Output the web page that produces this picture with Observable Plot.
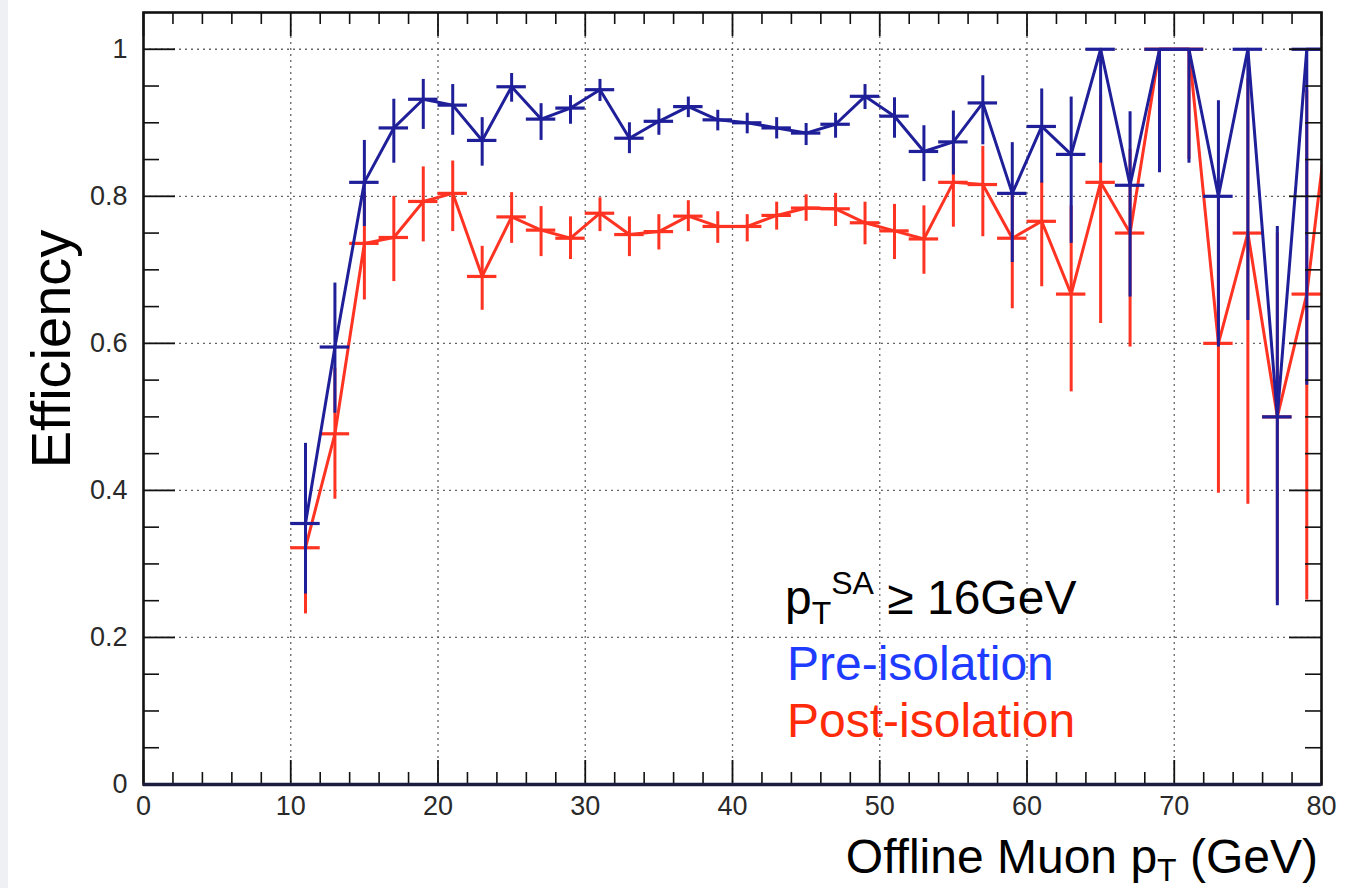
<!DOCTYPE html>
<html><head><meta charset="utf-8">
<script src="https://cdn.jsdelivr.net/npm/d3@7"></script>
<script src="https://cdn.jsdelivr.net/npm/@observablehq/plot@0.6"></script>
<style>
body{margin:0;background:#fff;}
#wrap{position:relative;width:1351px;height:888px;overflow:hidden;}
#strip{position:absolute;left:0;top:0;width:8px;height:888px;background:#eef0f4;}
</style></head><body>
<div id="wrap"><div id="chart"></div><div id="strip"></div></div>
<script>
// ---- data (bin centres in GeV, efficiencies, asymmetric errors) ----
const ptBins = [11,13,15,17,19,21,23,25,27,29,31,33,35,37,39,41,43,45,47,49,51,53,55,57,59,61,63,65,67,69,71,73,75,77,79,81];
const preEff   = [0.355,0.595,0.819,0.893,0.932,0.924,0.876,0.949,0.905,0.920,0.945,0.879,0.902,0.922,0.904,0.900,0.893,0.886,0.898,0.936,0.909,0.861,0.874,0.927,0.804,0.895,0.857,1.0,0.815,1.0,1.0,0.800,1.0,0.500,1.0,1.0];
const preErrHi = [0.109,0.087,0.057,0.039,0.027,0.028,0.031,0.018,0.021,0.017,0.014,0.021,0.017,0.013,0.013,0.013,0.014,0.013,0.015,0.016,0.025,0.035,0.042,0.037,0.069,0.051,0.078,0,0.100,0,0,0.130,0,0.259,0,0];
const preErrLo = [0.096,0.090,0.060,0.048,0.041,0.041,0.035,0.021,0.029,0.022,0.016,0.021,0.019,0.015,0.015,0.015,0.015,0.017,0.019,0.018,0.030,0.041,0.045,0.057,0.094,0.077,0.121,0.155,0.152,0.168,0.155,0.205,0.369,0.257,0.457,0];
const postEff   = [0.322,0.477,0.736,0.744,0.793,0.804,0.691,0.772,0.754,0.743,0.777,0.748,0.752,0.773,0.759,0.759,0.774,0.784,0.783,0.764,0.753,0.742,0.819,0.816,0.743,0.766,0.667,0.819,0.750,1.0,1.0,0.600,0.750,0.500,0.667,1.0];
const postErrHi = [0.108,0.089,0.069,0.056,0.047,0.044,0.041,0.033,0.032,0.029,0.021,0.024,0.023,0.021,0.020,0.016,0.018,0.018,0.021,0.028,0.036,0.045,0.050,0.052,0.070,0.054,0.120,0.118,0.114,0,0,0.200,0.210,0.250,0.277,0];
const postErrLo = [0.090,0.089,0.077,0.060,0.055,0.052,0.046,0.036,0.036,0.029,0.025,0.030,0.025,0.021,0.023,0.021,0.020,0.018,0.024,0.030,0.039,0.048,0.061,0.071,0.096,0.089,0.133,0.192,0.155,0.160,0.150,0.204,0.369,0.250,0.416,0];
const binHalfWidth = 1;
const xMajorTicks = [0,10,20,30,40,50,60,70,80];
const xMinorTicks = [2,4,6,8,12,14,16,18,22,24,26,28,32,34,36,38,42,44,46,48,52,54,56,58,62,64,66,68,72,74,76,78];
const yMajorTicks = [0,0.2,0.4,0.6,0.8,1];
const yMinorTicks = [0.05,0.1,0.15,0.25,0.3,0.35,0.45,0.5,0.55,0.65,0.7,0.75,0.85,0.9,0.95];
const xGridTicks = [10,20,30,40,50,60,70];
const yGridTicks = [0.2,0.4,0.6,0.8,1];

const BLUE = "#1f1f99", RED = "#ff3322";
const W = 1351, H = 888, mL = 143, mR = 30, mT = 12, mB = 104;
const innerW = W - mL - mR, innerH = H - mT - mB;

const rows = (eff, hi, lo) => ptBins.map((x, i) => ({x, y: eff[i], y1: eff[i] - lo[i], y2: eff[i] + hi[i]}));
const pre = rows(preEff, preErrHi, preErrLo);
const post = rows(postEff, postErrHi, postErrLo);
const inRange = d => d.x < 80;

function series(data, color) {
  return [
    Plot.ruleX(data, {filter: inRange, x: "x", y1: "y1", y2: "y2", stroke: color, strokeWidth: 3, clip: true}),
    Plot.ruleY(data, {filter: inRange, y: "y", x1: d => d.x - binHalfWidth, x2: d => d.x + binHalfWidth, stroke: color, strokeWidth: 3.2, clip: true}),
    Plot.line(data, {x: "x", y: "y", stroke: color, strokeWidth: 3, clip: true})
  ];
}

const tickFmt = d => String(+(+d).toFixed(2));

const chart = Plot.plot({
  width: W, height: H,
  marginLeft: mL, marginRight: mR, marginTop: mT, marginBottom: mB,
  style: {fontFamily: "'Liberation Sans', Arial, Helvetica, sans-serif", background: "transparent", color: "#2a2a2a"},
  x: {domain: [0, 80]},
  y: {domain: [0, 1.05]},
  marks: [
    Plot.gridX(xGridTicks, {stroke: "#555", strokeOpacity: 0.9, strokeWidth: 1.3, strokeDasharray: "2,4"}),
    Plot.gridY(yGridTicks, {stroke: "#555", strokeOpacity: 0.9, strokeWidth: 1.3, strokeDasharray: "2,4"}),
    ...series(post, RED),
    ...series(pre, BLUE),
    // ROOT-style inner ticks on all four sides
    Plot.ruleX(xMinorTicks, {stroke: "#111", strokeWidth: 1.6, insetTop: innerH - 12}),
    Plot.ruleX(xMajorTicks, {stroke: "#111", strokeWidth: 1.8, insetTop: innerH - 24}),
    Plot.ruleX(xMinorTicks, {stroke: "#111", strokeWidth: 1.6, insetBottom: innerH - 12}),
    Plot.ruleX(xMajorTicks, {stroke: "#111", strokeWidth: 1.8, insetBottom: innerH - 24}),
    Plot.ruleY(yMinorTicks, {stroke: "#111", strokeWidth: 1.6, insetRight: innerW - 16}),
    Plot.ruleY(yMajorTicks, {stroke: "#111", strokeWidth: 1.8, insetRight: innerW - 32}),
    Plot.ruleY(yMinorTicks, {stroke: "#111", strokeWidth: 1.6, insetLeft: innerW - 16}),
    Plot.ruleY(yMajorTicks, {stroke: "#111", strokeWidth: 1.8, insetLeft: innerW - 32}),
    Plot.frame({stroke: "#111", strokeWidth: 2.6}),
    Plot.ruleY([0], {stroke: "#1c1c40", strokeWidth: 3.5}),
    Plot.axisX({ticks: xMajorTicks, tickSize: 0, tickPadding: 11, fontSize: 27, tickFormat: tickFmt, label: null}),
    Plot.axisY({ticks: yMajorTicks, tickSize: 0, tickPadding: 16, fontSize: 27, tickFormat: tickFmt, label: null})
  ]
});
document.getElementById("chart").appendChild(chart);

// ---- titles and in-plot legend text ----
const svg = d3.select(chart);
const ff = "'Liberation Sans', Arial, Helvetica, sans-serif";
svg.append("text").attr("transform", "translate(70,349) rotate(-90)")
  .attr("text-anchor", "middle").attr("font-family", ff).attr("font-size", 56).attr("fill", "#000")
  .text("Efficiency");

const xt = svg.append("text").attr("x", 1318).attr("y", 873).attr("text-anchor", "end")
  .attr("font-family", ff).attr("font-size", 48).attr("fill", "#000");
xt.append("tspan").text("Offline Muon p");
xt.append("tspan").attr("font-size", 32).attr("dy", 8).text("T");
xt.append("tspan").attr("dy", -8).text(" (GeV)");

const l1 = svg.append("text").attr("x", 785).attr("y", 614).attr("text-anchor", "start")
  .attr("font-family", ff).attr("font-size", 48).attr("fill", "#000");
l1.append("tspan").text("p");
l1.append("tspan").attr("font-size", 32).attr("dy", 10).text("T");
l1.append("tspan").attr("font-size", 32).attr("dy", -30).text("SA");
l1.append("tspan").attr("dy", 20).text(" \u2265 16GeV");

svg.append("text").attr("x", 787).attr("y", 680).attr("text-anchor", "start").attr("font-family", ff).attr("font-size", 48)
  .attr("fill", "#1e3cff").text("Pre-isolation");
svg.append("text").attr("x", 787).attr("y", 737).attr("text-anchor", "start").attr("font-family", ff).attr("font-size", 48)
  .attr("fill", "#ff2a0a").text("Post-isolation");
</script>
</body></html>
